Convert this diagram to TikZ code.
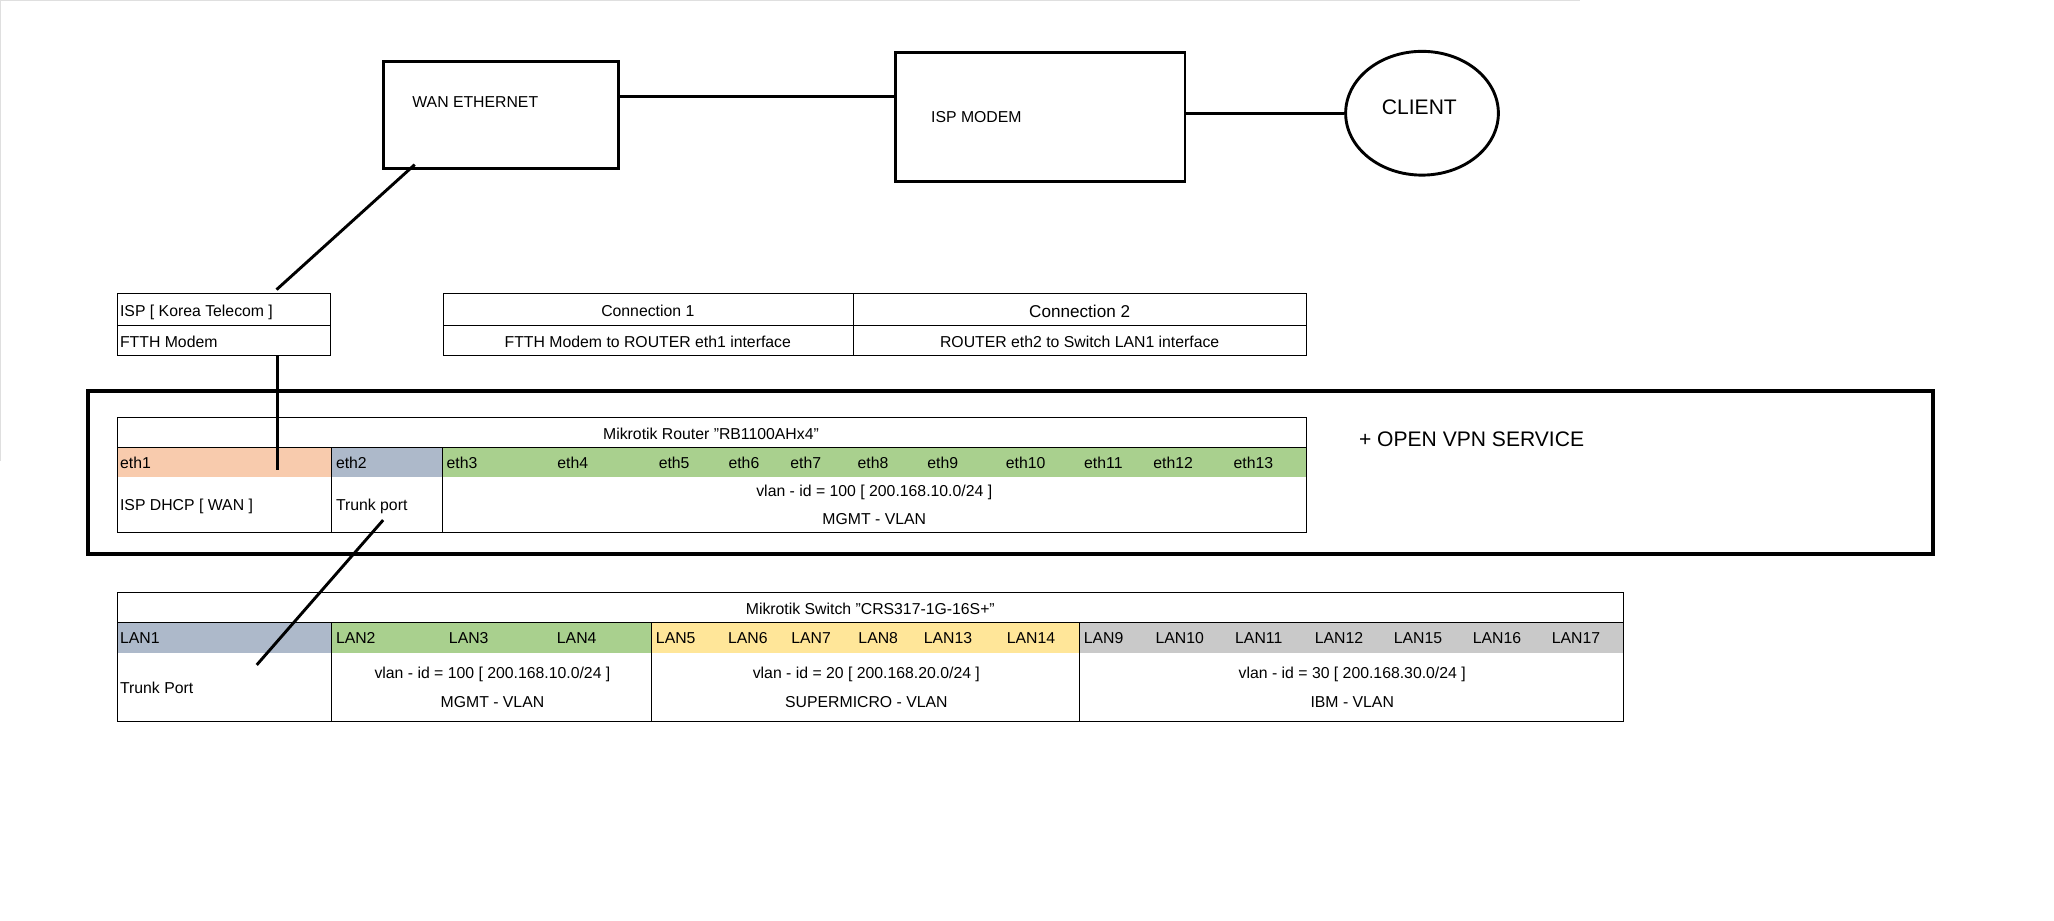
\documentclass[tikz,border=0pt]{standalone}
\usepackage{fontspec}
\setmainfont{Liberation Sans}
\usetikzlibrary{shapes.geometric}
\definecolor{corg}{HTML}{F8CBAD}
\definecolor{cblu}{HTML}{ADB9CA}
\definecolor{cgrn}{HTML}{A9D08E}
\definecolor{cyel}{HTML}{FFE699}
\definecolor{cgry}{HTML}{C9C9C9}
\begin{document}
\begin{tikzpicture}[x=1pt,y=-1pt,font=\fontsize{12}{14}\selectfont,
  thick/.style={line width=2.2pt},
  cell/.style={draw,line width=0.6pt},
  lbl/.style={inner sep=0pt,anchor=base},
  lbll/.style={inner sep=0pt,anchor=base west}]
\useasboundingbox (0,0) rectangle (1560,699);
\fill[white] (0,0) rectangle (1560,699);
\draw[gray!25] (0,0.5) -- (1200,0.5);
\draw[gray!25] (0.5,0) -- (0.5,350);
% top
\draw[thick] (291,47) rectangle (470,128);
\node[lbll] (wan) at (313,82) {WAN ETHERNET};
\draw[thick] (680,40) rectangle (900,138);
\node[lbll] (isp) at (707,93) {ISP MODEM};
\node[draw,ellipse,line width=2.2pt,minimum width=116pt,minimum height=94pt] (cl) at (1080,86) {};
\node[lbl,font=\fontsize{16}{18}\selectfont] at (1078,87) {CLIENT};
\coordinate (a1) at (470,73); \coordinate (a2) at (680,73);
\draw[thick] (a1) -- (a2);
\coordinate (b1) at (900,86);
\draw[thick] (b1) -- (cl.west);
\coordinate (c1) at (315,125); \coordinate (c2) at (210,220);
\draw[thick] (c1) -- (c2);
% ISP table
\draw[cell] (89,223) rectangle (251,270); \draw[cell] (89,247) -- (251,247);
\node[lbll] at (91,240) {ISP [ Korea Telecom ]};
\node[lbll] at (91,264) {FTTH Modem};
\coordinate (d1) at (211,270); \coordinate (d2) at (211,357);
% connection table
\draw[cell] (337,223) rectangle (992,270); \draw[cell] (337,247) -- (992,247); \draw[cell] (648,223) -- (648,270);
\node[lbl] at (492,240) {Connection 1};
\node[lbl,font=\fontsize{13}{15}\selectfont] at (820,241) {Connection 2};
\node[lbl] at (492,264) {FTTH Modem to ROUTER eth1 interface};
\node[lbl] at (820,264) {ROUTER eth2 to Switch LAN1 interface};
% big box
\draw[line width=3pt] (67,297) rectangle (1468,421);
\node[lbll,font=\fontsize{16}{18}\selectfont] at (1032,339) {+ OPEN VPN SERVICE};
% router table
\fill[corg] (89,340) rectangle (252,362);
\fill[cblu] (252,340) rectangle (336,362);
\fill[cgrn] (336,340) rectangle (992,362);
\draw[cell] (89,317) rectangle (992,404);
\draw[cell] (89,340) -- (992,340);
\draw[cell] (252,340) -- (252,404); \draw[cell] (336,340) -- (336,404);
\node[lbl] at (540,334) {Mikrotik Router "RB1100AHx4"};
\node[lbll] at (91,356) {eth1};
\node[lbll] at (255,356) {eth2};
\node[lbll] at (339,356) {eth3};
\foreach \x/\t in {435/eth4,512/eth5,565/eth6,612/eth7,663/eth8,716/eth9,779/eth10,838/eth11,891/eth12,952/eth13}
  \node[lbl] at (\x,356) {\t};
\node[lbll] at (91,388) {ISP DHCP [ WAN ]};
\node[lbll] at (255,388) {Trunk port};
\node[lbl] at (664,377) {vlan - id = 100 [ 200.168.10.0/24 ]};
\node[lbl] at (664,398) {MGMT - VLAN};
\draw[thick] (d1) -- (d2);
\coordinate (e1) at (291,395); \coordinate (e2) at (195,505);
% switch table
\fill[cblu] (89,473) rectangle (252,496);
\fill[cgrn] (252,473) rectangle (495,496);
\fill[cyel] (495,473) rectangle (820,496);
\fill[cgry] (820,473) rectangle (1233,496);
\draw[cell] (89,450) rectangle (1233,548);
\draw[cell] (89,473) -- (1233,473);
\foreach \x in {252,495,820} \draw[cell] (\x,473) -- (\x,548);
\node[lbl] at (661,467) {Mikrotik Switch "CRS317-1G-16S+"};
\node[lbll] at (91,489) {LAN1};
\node[lbll] at (255,489) {LAN2};
\node[lbll] at (498,489) {LAN5};
\node[lbll] at (823,489) {LAN9};
\foreach \x/\t in {356/LAN3,438/LAN4,568/LAN6,616/LAN7,667/LAN8,720/LAN13,783/LAN14,896/LAN10,956/LAN11,1017/LAN12,1077/LAN15,1137/LAN16,1197/LAN17}
  \node[lbl] at (\x,489) {\t};
\node[lbll] at (91,527) {Trunk Port};
\node[lbl] at (374,515) {vlan - id = 100 [ 200.168.10.0/24 ]};
\node[lbl] at (374,537) {MGMT - VLAN};
\node[lbl] at (658,515) {vlan - id = 20 [ 200.168.20.0/24 ]};
\node[lbl] at (658,537) {SUPERMICRO - VLAN};
\node[lbl] at (1027,515) {vlan - id = 30 [ 200.168.30.0/24 ]};
\node[lbl] at (1027,537) {IBM - VLAN};
\draw[thick] (e1) -- (e2);
\end{tikzpicture}
\end{document}
